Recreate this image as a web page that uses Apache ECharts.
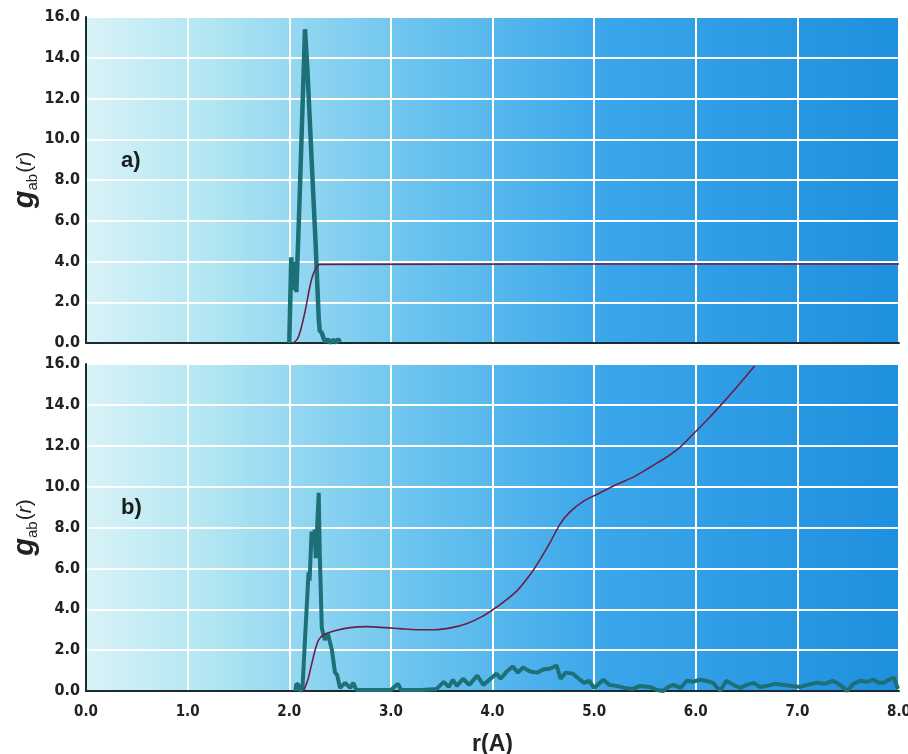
<!DOCTYPE html>
<html>
<head>
<meta charset="utf-8">
<script src="https://cdn.jsdelivr.net/npm/echarts@6/dist/echarts.min.js"></script>
<style>
  html, body { margin: 0; padding: 0; background: #fff; }
  #chart { width: 908px; height: 754px; }
</style>
</head>
<body>
<div id="chart"></div>
<script>
// axis ticks
var xTicks = [0, 1, 2, 3, 4, 5, 6, 7, 8];
var yTicks = [0, 2, 4, 6, 8, 10, 12, 14, 16];

// panel a) g(r) and running coordination number
var rA = [2.00, 2.01, 2.02, 2.03, 2.04, 2.05, 2.06, 2.07, 2.10, 2.155, 2.18, 2.22, 2.26, 2.29, 2.30, 2.32, 2.34, 2.36, 2.38, 2.40, 2.42, 2.44, 2.46, 2.48, 2.50];
var gA = [0, 0, 4.2, 2.8, 4.0, 2.6, 3.8, 2.5, 6.8, 15.4, 13.3, 9.0, 4.8, 1.2, 0.6, 0.5, 0.2, 0.05, 0.2, 0.0, 0.1, 0.15, 0.0, 0.2, 0.05];
var rNA = [2.04, 2.08, 2.11, 2.14, 2.17, 2.20, 2.23, 2.26, 2.30, 8.00];
var nA = [0, 0.2, 0.6, 1.2, 1.9, 2.7, 3.3, 3.65, 3.86, 3.88];

// panel b)
var rB = [2.06, 2.07, 2.09, 2.11, 2.13, 2.16, 2.19, 2.20, 2.22, 2.24, 2.25, 2.26, 2.29, 2.30, 2.32, 2.35, 2.38, 2.42, 2.45, 2.47, 2.50, 2.55, 2.60, 2.63, 2.66, 2.80, 3.00, 3.07, 3.10, 3.30, 3.45, 3.52, 3.57, 3.61, 3.65, 3.71, 3.77, 3.85, 3.91, 3.98, 4.04, 4.08, 4.14, 4.20, 4.25, 4.30, 4.37, 4.44, 4.50, 4.57, 4.63, 4.67, 4.72, 4.79, 4.85, 4.90, 4.95, 5.00, 5.09, 5.15, 5.22, 5.30, 5.38, 5.45, 5.55, 5.62, 5.68, 5.73, 5.78, 5.85, 5.91, 5.97, 6.04, 6.10, 6.17, 6.24, 6.30, 6.37, 6.44, 6.50, 6.57, 6.63, 6.70, 6.78, 6.86, 6.95, 7.03, 7.10, 7.19, 7.27, 7.35, 7.42, 7.49, 7.55, 7.62, 7.68, 7.75, 7.80, 7.85, 7.90, 7.95, 7.99];
var gB = [0.0, 0.35, 0.3, 0.0, 0.1, 3.0, 5.8, 5.4, 7.8, 7.3, 7.9, 6.5, 9.7, 6.8, 3.1, 2.5, 2.8, 2.0, 0.9, 0.8, 0.15, 0.4, 0.15, 0.4, 0.05, 0.05, 0.05, 0.35, 0.05, 0.05, 0.1, 0.45, 0.2, 0.55, 0.25, 0.6, 0.3, 0.75, 0.3, 0.6, 0.85, 0.6, 0.95, 1.2, 0.9, 1.15, 0.95, 0.9, 1.05, 1.1, 1.25, 0.6, 0.9, 0.85, 0.6, 0.4, 0.5, 0.15, 0.55, 0.3, 0.25, 0.15, 0.1, 0.25, 0.2, 0.05, 0.0, 0.2, 0.3, 0.15, 0.5, 0.45, 0.55, 0.5, 0.4, 0.0, 0.5, 0.3, 0.15, 0.3, 0.4, 0.2, 0.25, 0.35, 0.3, 0.25, 0.2, 0.3, 0.4, 0.35, 0.5, 0.3, 0.0, 0.35, 0.5, 0.45, 0.55, 0.4, 0.4, 0.55, 0.65, 0.1];
var rNB = [2.14, 2.18, 2.22, 2.26, 2.29, 2.34, 2.45, 2.60, 2.76, 2.95, 3.09, 3.25, 3.42, 3.60, 3.75, 3.90, 4.01, 4.12, 4.24, 4.40, 4.50, 4.57, 4.67, 4.76, 4.90, 5.02, 5.22, 5.40, 5.55, 5.70, 5.85, 5.99, 6.10, 6.24, 6.40, 6.58];
var nB = [0, 0.5, 1.3, 2.1, 2.5, 2.75, 2.95, 3.1, 3.15, 3.1, 3.05, 3.0, 3.0, 3.1, 3.3, 3.65, 4.0, 4.4, 4.9, 5.9, 6.7, 7.3, 8.2, 8.75, 9.3, 9.6, 10.1, 10.5, 10.95, 11.4, 11.95, 12.65, 13.2, 13.95, 14.85, 15.9];

function pairs(xs, ys) {
  return xs.map(function (x, i) { return [x, ys[i]]; });
}

var labelFont = '"Liberation Sans Narrow", "DejaVu Sans Condensed", "Liberation Sans", sans-serif';
var bg = new echarts.graphic.LinearGradient(0, 0, 1, 0, [
  { offset: 0, color: '#d8f3f7' },
  { offset: 0.15, color: '#b2e6f2' },
  { offset: 0.4, color: '#6cc4ef' },
  { offset: 0.64, color: '#3aa6ea' },
  { offset: 1, color: '#1f90df' }
]);

function xAxisFor(idx, showLabels) {
  return {
    type: 'value', gridIndex: idx, min: 0, max: 8, interval: 1,
    axisLine: { show: true, onZero: false, lineStyle: { color: '#1b2b30', width: 2 } },
    axisTick: { show: false },
    axisLabel: {
      show: showLabels, margin: 14, color: '#222', fontSize: 15, fontWeight: 'bold', fontFamily: labelFont,
      formatter: function (v) { return v.toFixed(1); }
    },
    splitLine: { show: true, lineStyle: { color: '#ffffff', width: 2 } },
    name: showLabels ? 'r(A)' : '',
    nameLocation: 'middle', nameGap: 42,
    nameTextStyle: { fontSize: 23, fontWeight: 'bold', color: '#222', fontFamily: '"Liberation Sans", Arial, sans-serif' }
  };
}

function yAxisFor(idx) {
  return {
    type: 'value', gridIndex: idx, min: 0, max: 16, interval: 2,
    axisLine: { show: true, lineStyle: { color: '#1b2b30', width: 2 } },
    axisTick: { show: false },
    axisLabel: {
      margin: 6, color: '#222', fontSize: 16, fontWeight: 'bold', fontFamily: labelFont,
      formatter: function (v) { return v.toFixed(1); }
    },
    splitLine: { show: true, lineStyle: { color: '#ffffff', width: 2 } },
    name: '{g|g}{s|ab}{p|(}{r|r}{p|)}',
    nameLocation: 'middle', nameRotate: 90, nameGap: 46, nameMoveOverlap: false,
    nameTextStyle: {
      color: '#222',
      rich: {
        g: { fontSize: 29, fontWeight: 'bold', fontStyle: 'italic', fontFamily: '"Liberation Sans", Arial, sans-serif', color: '#222', lineHeight: 30 },
        s: { fontSize: 15, fontFamily: '"Liberation Sans", Arial, sans-serif', color: '#222', verticalAlign: 'bottom', padding: [12, 1, 0, 0] },
        p: { fontSize: 21, fontFamily: '"Liberation Sans", Arial, sans-serif', color: '#222' },
        r: { fontSize: 21, fontStyle: 'italic', fontFamily: '"Liberation Sans", Arial, sans-serif', color: '#222' }
      }
    }
  };
}

var chart = echarts.init(document.getElementById('chart'));
chart.setOption({
  backgroundColor: '#ffffff',
  animation: false,
  grid: [
    { left: 86, top: 17, width: 813, height: 326, show: true, backgroundColor: bg, borderWidth: 0, containLabel: false, outerBoundsMode: 'none' },
    { left: 86, top: 364, width: 813, height: 327, show: true, backgroundColor: bg, borderWidth: 0, containLabel: false, outerBoundsMode: 'none' }
  ],
  xAxis: [xAxisFor(0, false), xAxisFor(1, true)],
  yAxis: [yAxisFor(0), yAxisFor(1)],
  graphic: [
    { type: 'text', left: 121, top: 150, style: { text: 'a)', fontSize: 22, fontWeight: 'bold', fill: '#1c1c1c', fontFamily: '"Liberation Sans", Arial, sans-serif' } },
    { type: 'text', left: 121, top: 497, style: { text: 'b)', fontSize: 22, fontWeight: 'bold', fill: '#1c1c1c', fontFamily: '"Liberation Sans", Arial, sans-serif' } }
  ],
  series: [
    {
      type: 'line', xAxisIndex: 0, yAxisIndex: 0, data: pairs(rA, gA),
      showSymbol: false, lineStyle: { color: '#1d6f78', width: 4.5 }, z: 3
    },
    {
      type: 'line', xAxisIndex: 0, yAxisIndex: 0, data: pairs(rNA, nA), smooth: 0.3,
      showSymbol: false, lineStyle: { color: '#6b1e48', width: 1.6 }, z: 4
    },
    {
      type: 'line', xAxisIndex: 1, yAxisIndex: 1, data: pairs(rB, gB),
      showSymbol: false, lineStyle: { color: '#1d6f78', width: 4 }, z: 3
    },
    {
      type: 'line', xAxisIndex: 1, yAxisIndex: 1, data: pairs(rNB, nB), smooth: 0.3,
      showSymbol: false, lineStyle: { color: '#6b1e48', width: 1.6 }, z: 4
    }
  ]
});
</script>
</body>
</html>
